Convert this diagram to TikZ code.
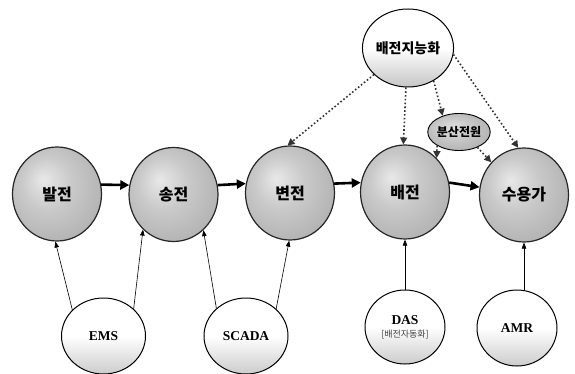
\documentclass[tikz,border=0pt]{standalone}
\usepackage{fontspec}
\newfontfamily\kr{Noto Sans CJK KR}
\newfontfamily\lr{Liberation Serif}
\usetikzlibrary{shapes.geometric,arrows.meta}
\pgfdeclareradialshading{sphgray}{\pgfpoint{-8bp}{8bp}}{color(0bp)=(gray!18); color(14bp)=(gray!42); color(30bp)=(gray!60); color(42bp)=(gray!66); color(50bp)=(gray!80)}
\pgfdeclareradialshading{srcgray}{\pgfpoint{-6bp}{6bp}}{color(0bp)=(gray!25); color(20bp)=(gray!50); color(40bp)=(gray!70); color(50bp)=(gray!85)}
\tikzset{
  mainball/.style={ellipse, minimum width=89pt, minimum height=94pt, draw=black!85, line width=1.2pt,
    shading=sphgray, font=\kr\bfseries\fontsize{16}{18}\selectfont, inner sep=0pt},
  topball/.style={ellipse, minimum width=90pt, minimum height=78pt, draw=black, line width=1pt,
    top color=white, bottom color=gray!45, middle color=white, font=\kr\bfseries\fontsize{14}{16}\selectfont, inner sep=0pt},
  srcball/.style={ellipse, minimum width=62pt, minimum height=37pt, draw=black, line width=0.9pt,
    shading=srcgray, font=\kr\bfseries\fontsize{12}{14}\selectfont, inner sep=0pt},
  sysball/.style={ellipse, minimum width=84pt, minimum height=76pt, draw=black, line width=1pt,
    top color=white, bottom color=gray!40, middle color=white, font=\lr\bfseries\fontsize{13.5}{14}\selectfont, inner sep=0pt, align=center},
  flow/.style={line width=2.6pt, -{Triangle[length=9pt,width=9pt]}},
  feed/.style={line width=0.6pt, -{Triangle[length=6pt,width=4.5pt]}},
  dotarrow/.style={line width=1.6pt, dash pattern=on 1.6pt off 2.2pt, gray!40!black, -{Triangle[length=7pt,width=7pt]}},
  shadowarc/.style={line width=2pt, black!80},
}
\begin{document}
\begin{tikzpicture}[x=1pt,y=-1pt]
\useasboundingbox (0,0) rectangle (575,374);
% main chain
\node[mainball] (bal) at (57,194) {발전};
\node[mainball] (song) at (173.5,194.5) {송전};
\node[mainball] (byun) at (290,193) {변전};
\node[mainball] (bae) at (405,192) {배전};
\node[mainball] (su) at (524,195) {수용가};
% top
\node[topball] (ji) at (408,48) {배전지능화};
\node[srcball] (src) at (459,132) {분산전원};
% bottom systems
\node[sysball] (ems) at (103.5,336) {EMS};
\node[sysball] (scada) at (246,336) {SCADA};
\node[sysball, minimum width=80pt, minimum height=74pt] (das) at (405,327) {DAS\\[-1pt]{\kr\mdseries\color{black!75}\fontsize{9}{10}\selectfont [배전자동화]}};
\node[sysball, minimum width=80pt, minimum height=76pt] (amr) at (517,328) {AMR};
% flow arrows
\draw[flow] (bal.12) -- (song.168);
\draw[flow] (song.12) -- (byun.168);
\draw[flow] (byun.12) -- (bae.168);
\draw[flow] (bae.12) -- (su.170);
% feeds
\draw[feed] (ems.140) -- (bal.-92);
\draw[feed] (ems.42) -- (song.-131);
\draw[feed] (scada.137) -- (song.-50);
\draw[feed] (scada.42) -- (byun.-91);
\draw[feed] (das.north) -- (bae.south);
\draw[feed] (amr.north -| su.south) -- (su.south);
% dotted
\draw[dotarrow] (ji.218) -- (byun.93);
\draw[dotarrow] (ji.-93) -- (bae.92);
\draw[dotarrow] (ji.-52) -- (src.135);
\draw[dotarrow] (src.212) -- (bae.47);
\draw[dotarrow] (src.-40) -- (su.135);
\draw[dotarrow] (ji.-8) -- (su.97);
\end{tikzpicture}
\end{document}
